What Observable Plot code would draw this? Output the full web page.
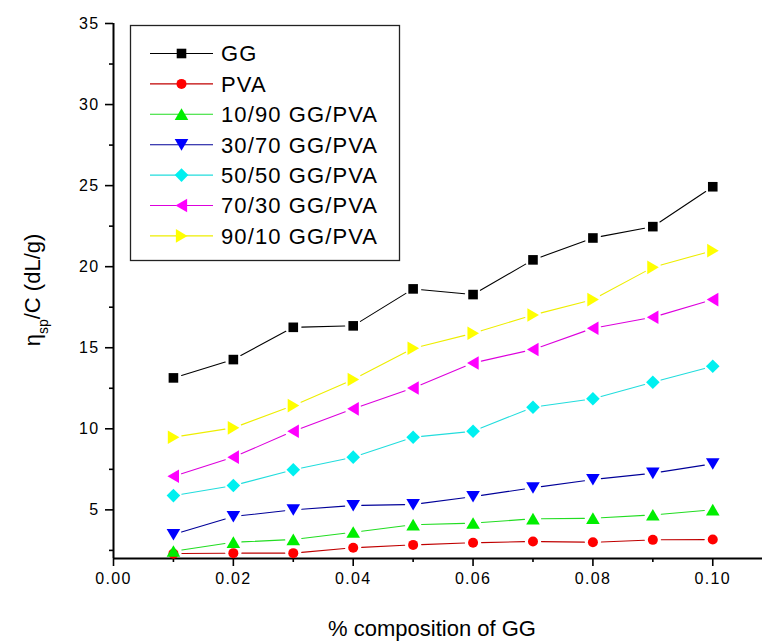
<!DOCTYPE html>
<html><head><meta charset="utf-8">
<script src="https://cdn.jsdelivr.net/npm/d3@7"></script>
<script src="https://cdn.jsdelivr.net/npm/@observablehq/plot@0.6"></script>
<style>
body{margin:0;background:#fff}
#chart{position:relative;width:762px;height:644px}
</style>
</head><body><div id="chart"></div>
<script>
// ---- data ----
const xValues = [0.01, 0.02, 0.03, 0.04, 0.05, 0.06, 0.07, 0.08, 0.09, 0.10];
const seriesNames = ["GG", "PVA", "10/90 GG/PVA", "30/70 GG/PVA", "50/50 GG/PVA", "70/30 GG/PVA", "90/10 GG/PVA"];
const gg     = [13.14, 14.27, 16.26, 16.35, 18.63, 18.28, 20.42, 21.77, 22.47, 24.93];
const pva    = [2.30, 2.33, 2.33, 2.66, 2.84, 2.97, 3.05, 3.00, 3.15, 3.17];
const gp1090 = [2.45, 3.00, 3.17, 3.62, 4.08, 4.18, 4.45, 4.48, 4.69, 5.00];
const gp3070 = [3.48, 4.59, 5.00, 5.27, 5.33, 5.82, 6.36, 6.87, 7.26, 7.84];
const gp5050 = [5.88, 6.50, 7.47, 8.25, 9.48, 9.85, 11.33, 11.85, 12.87, 13.86];
const gp7030 = [7.07, 8.25, 9.85, 11.23, 12.52, 14.06, 14.89, 16.20, 16.88, 17.97];
const gp9010 = [9.48, 10.06, 11.43, 13.04, 14.97, 15.89, 17.02, 17.97, 19.96, 20.99];
const yMajorTicks = [5, 10, 15, 20, 25, 30, 35];
const yMinorTicks = [2.5, 7.5, 12.5, 17.5, 22.5, 27.5, 32.5];
const xMajorTicks = [0, 0.02, 0.04, 0.06, 0.08, 0.10];
const xMinorTicks = [0.01, 0.03, 0.05, 0.07, 0.09];
const xTitle = "% composition of GG";

// ---- symbols ----
function poly(pts) {
  return {draw(ctx) { ctx.moveTo(pts[0][0], pts[0][1]); for (let i = 1; i < pts.length; i++) ctx.lineTo(pts[i][0], pts[i][1]); ctx.closePath(); }};
}
const symSquare = poly([[-4.8,-4.8],[4.8,-4.8],[4.8,4.8],[-4.8,4.8]]);
const symCircle = {draw(ctx) { ctx.moveTo(5, 0); ctx.arc(0, 0, 5, 0, 2 * Math.PI); }};
const symUp = poly([[0,-6],[6.8,5.6],[-6.8,5.6]]);
const symDown = poly([[0,6],[6.8,-5.6],[-6.8,-5.6]]);
const symDiamond = poly([[0,-6.8],[6.8,0],[0,6.8],[-6.8,0]]);
const symLeft = poly([[-6,0],[5.6,-6.8],[5.6,6.8]]);
const symRight = poly([[6,0],[-5.6,-6.8],[-5.6,6.8]]);

const seriesValues = [gg, pva, gp1090, gp3070, gp5050, gp7030, gp9010];
const markerColors = ["#000000", "#ff0000", "#00ee00", "#0000ff", "#00f0f0", "#ff00ff", "#ffff00"];
const lineColors   = ["#000000", "#c00000", "#22dd22", "#000099", "#22dddd", "#dd00dd", "#eeee00"];
const symbols = [symSquare, symCircle, symUp, symDown, symDiamond, symLeft, symRight];

const series = seriesNames.map((name, i) => ({
  name,
  points: xValues.map((x, j) => ({x, y: seriesValues[i][j]}))
}));

const font = "'Liberation Sans', Arial, sans-serif";
const marks = [];
series.forEach((s, i) => {
  marks.push(Plot.arrow(d3.pairs(s.points), {
    x1: d => d[0].x, y1: d => d[0].y, x2: d => d[1].x, y2: d => d[1].y,
    headLength: 0, insetStart: 8.5, insetEnd: 8.5, stroke: lineColors[i], strokeWidth: 1.1
  }));
  marks.push(Plot.dot(s.points, {x: "x", y: "y", symbol: symbols[i], fill: markerColors[i], stroke: "none", r: 5}));
});

const plot = Plot.plot({
  width: 762, height: 644,
  marginLeft: 113, marginRight: 0, marginTop: 23, marginBottom: 86,
  x: {domain: [0, 0.1083], axis: null},
  y: {domain: [2, 35], axis: null},
  style: {fontFamily: font, fontSize: "16px", background: "white", color: "black"},
  marks: [
    Plot.axisY(yMajorTicks, {anchor: "left", tickSize: 8, tickPadding: 6, tickFormat: d => String(d), strokeWidth: 1.6, label: null, fontSize: 16}),
    Plot.axisY(yMinorTicks, {anchor: "left", tickSize: 4, tickFormat: () => "", strokeWidth: 1.6, label: null}),
    Plot.axisX(xMajorTicks, {anchor: "bottom", tickSize: 8, tickPadding: 6, tickFormat: d3.format(".2f"), strokeWidth: 1.6, label: null, fontSize: 16}),
    Plot.axisX(xMinorTicks, {anchor: "bottom", tickSize: 4, tickFormat: () => "", strokeWidth: 1.6, label: null}),
    Plot.ruleX([0], {y1: 2, y2: 35, strokeWidth: 2}),
    Plot.ruleY([2], {strokeWidth: 2}),
    ...marks
  ]
});

document.getElementById("chart").appendChild(plot);
const svg = d3.select(plot);
svg.selectAll("[aria-label='y-axis tick label'] text, [aria-label='x-axis tick label'] text").attr("letter-spacing", 1.3);

// axis titles
const yt = svg.append("text")
  .attr("transform", "translate(40,290) rotate(-90)")
  .attr("text-anchor", "middle")
  .attr("font-family", font).attr("font-size", 22).attr("fill", "black");
yt.append("tspan").text("η");
yt.append("tspan").attr("baseline-shift", "sub").attr("font-size", 14).text("sp");
yt.append("tspan").text("/C (dL/g)");

svg.append("text")
  .attr("x", 432).attr("y", 636)
  .attr("text-anchor", "middle")
  .attr("font-family", font).attr("font-size", 22).attr("fill", "black")
  .text(xTitle);

// legend
const lg = svg.append("g").attr("font-family", font).attr("text-anchor", "start");
lg.append("rect").attr("x", 130.5).attr("y", 25.5).attr("width", 269).attr("height", 235)
  .attr("fill", "white").attr("stroke", "#222").attr("stroke-width", 1.3);
series.forEach((s, i) => {
  const cy = 53.5 + i * 30.4;
  const g = lg.append("g");
  g.append("line").attr("x1", 150).attr("x2", 213).attr("y1", cy).attr("y2", cy)
    .attr("stroke", lineColors[i]).attr("stroke-width", 1.1);
  const p = d3.path(); symbols[i].draw(p, 0);
  g.append("path").attr("d", p.toString()).attr("transform", `translate(181.5,${cy})`).attr("fill", markerColors[i]);
  g.append("text").attr("x", 221).attr("y", cy).attr("dy", "0.36em").attr("text-anchor", "start")
    .attr("font-size", 22).attr("letter-spacing", 1.1).attr("fill", "black").text(s.name);
});
</script>
</body></html>
